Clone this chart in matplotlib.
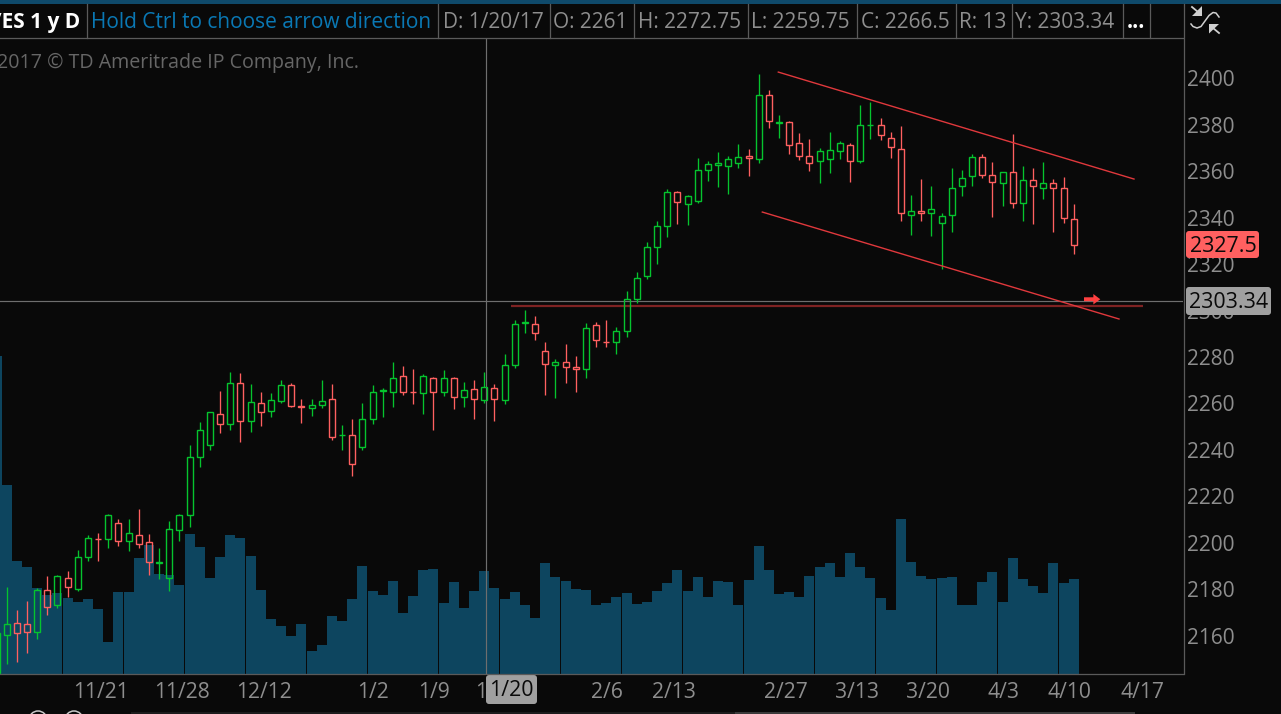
import matplotlib
matplotlib.use("Agg")
import matplotlib.pyplot as plt
from matplotlib.patches import Rectangle, FancyBboxPatch, Polygon, Circle
from matplotlib.transforms import ScaledTranslation
import numpy as np

opens = [2143.25,2159.75,2164.75,2164.5,2161,2179,2172.5,
 2184.25,2179.5,2193.25,2201.25,2201,2207.75,
 2200,2203,2199.75,2190.75,2184.25,2204.75,
 2211.25,2236.5,2241.5,2255,2250.5,2268,
 2251.75,2259.5,2256,2260.25,2267.25,2258.25,
 2257.25,2258.5,2261.25,2245.75,2246,2240.5,
 2252.5,2264.75,2264.25,2271,2264.5,2263.75,2270.5,
 2264.5,2270.25,2262,2265.5,2261,2266,
 2260.75,2275.75,2294,2293.75,2281.75,2275.75,
 2277,2275,2274,2293,2286,2285.75,
 2290.5,2304.25,2314,2326.5,2335.5,2350.25,
 2345,2346.25,2360,2361.75,2361.5,2362.75,
 2365.75,2364.5,2392.25,2380,2380.25,2371.25,2365.75,
 2363.5,2364.5,2367.75,2370.75,2363.5,2379,
 2379,2373.75,2369,2340.25,2342,2341.25,
 2337,2340.25,2352.75,2357,2365.25,2357.5,
 2354,2358.75,2345.5,2355.5,2352,2354,
 2352,2338.75]
highs = [2161,2180.25,2170.5,2174.5,2180,2185.25,2185.5,
 2187.5,2196.5,2203,2203.5,2211.75,2209.75,
 2209.75,2214,2203.25,2197,2208.75,2212,
 2241.5,2251.5,2255.75,2264.75,2273,2272.5,
 2267.75,2264.25,2264,2269.5,2268.25,2261.25,
 2261.25,2269.5,2267.75,2250,2252.5,2259.5,
 2267.25,2266,2277.25,2275.5,2274.25,2272,2270.75,
 2273.75,2270.75,2268.5,2269.5,2272.75,2267.75,
 2280.5,2295.25,2299.5,2297,2285.75,2278.5,
 2285,2279.75,2294,2294.5,2295.25,2292.25,
 2307.75,2315.75,2329,2337.75,2351.5,2350.75,
 2349,2365,2363.5,2367.5,2365.75,2371,
 2368.75,2401,2394.25,2383.5,2380.75,2375.5,2373,
 2369.25,2376,2372.25,2371.5,2387.75,2389,
 2382,2376,2378.75,2349,2356,2353,
 2341.5,2360.5,2359.75,2366.75,2366.75,2363.25,
 2358.75,2375.25,2361.5,2360.5,2363.25,2356,
 2356.75,2345.25]
lows = [2143,2147.5,2148.25,2152.25,2158.25,2168.5,2171.5,
 2176.25,2178.5,2191.75,2191.75,2197.25,2198.25,
 2196,2197,2185.75,2184,2178.75,2200,
 2206.25,2232.25,2239.5,2246.5,2247.75,2243,
 2247.25,2249.5,2253.75,2259.75,2258,2251,
 2254,2257.5,2243.5,2239.5,2228,2239.5,
 2250.75,2253.75,2258,2263,2259.25,2255,2248,
 2262.75,2257,2258,2252.75,2259.75,2251.75,
 2259.25,2274.75,2289.5,2286.75,2263,2261.75,
 2268,2264.5,2270.5,2283.5,2283.75,2280.75,
 2287.75,2302.75,2313,2319.5,2331,2336.75,
 2336.25,2345.75,2355.25,2352.5,2349.25,2360.75,
 2357.25,2363,2378,2373.75,2366.75,2364.25,2359.5,
 2354,2358.5,2364.5,2354.75,2363,2373.25,
 2372.5,2365,2338,2332,2338,2331.5,
 2317.25,2333.25,2348.75,2353,2356.5,2339.75,
 2344.5,2343.5,2338,2336.75,2347.5,2333.25,
 2337,2323.75]
closes = [2160.75,2164.5,2160.5,2161,2179,2172,2185,
 2180.25,2193.5,2201.5,2201,2211.25,2200,
 2203.5,2198.75,2191,2191,2205.25,2211.25,
 2236.5,2247.75,2255.5,2250.5,2268,2252,
 2260,2255.5,2260.75,2267.25,2258.25,2258,
 2258.5,2260.25,2244.75,2246,2233.5,2252.5,
 2264.5,2265.25,2270.5,2264.25,2264.25,2271,2264.5,
 2270.5,2262,2265,2261.25,2266.5,2261.25,
 2275.75,2293.75,2294.25,2289.5,2276.25,2277,
 2275,2274,2291.75,2286.5,2285.75,2290.5,
 2304.25,2313.25,2326.5,2335.5,2350.5,2346,
 2348.5,2360,2362.25,2362.75,2364.5,2365.25,
 2364.75,2392.25,2380.75,2380.25,2370.75,2366,2363,
 2367.75,2368.25,2371.25,2363.5,2379,2379.25,
 2375,2369.5,2341.25,2342,2341.25,2343,
 2340,2352.25,2356.5,2365.25,2357.5,2354.5,
 2358.75,2345.5,2355.5,2352.75,2354,2352,
 2339,2327.5]
volumes = [318,189,113,107,86,79,81,
 76,72,75,65,32,82,
 82,116,129,100,99,89,
 140,127,96,117,139,136,
 118,84,55,48,38,50,
 23,29,58,53,75,108,
 83,79,93,61,78,104,105,
 71,92,66,83,103,86,
 75,82,69,56,111,97,
 93,85,84,69,71,77,
 81,70,72,83,91,104,
 83,97,77,93,92,69,
 94,128,104,80,82,77,98,
 107,111,97,121,107,96,
 76,64,155,112,98,95,
 96,97,69,69,92,102,
 72,116,95,88,81,111,
 91,95]
week_sizes = [7,6,6,6,6,6,7,6,6,6,6,6,7,6,6,6,6,2]
date_labels = ["11/21","11/28","12/12","1/2","1/9","1/16","2/6","2/13","2/27","3/13","3/20","4/3","4/10","4/17"]
date_slots = [10.37,18.5,26.62,37.57,43.67,49.97,60.97,67.67,78.87,85.97,93.07,100.57,107.22,114.47]
price_ticks = [2160,2180,2200,2220,2240,2260,2280,2300,2320,2340,2360,2380,2400]
upper_channel = ([78.1,113.67],[2401.9,2355.9])
lower_channel = ([76.5,112.17],[2341.7,2295.7])
support = ([51.37,114.57],[2301.3,2301.3])
crosshair_price = 2303.34
crosshair_slot = 48.9
last_price = 2327.5

FONT = "Open Sans"
BG = "#090909"; GREEN = "#05C42E"; RED = "#FF6060"; VOL = "#0D455F"
GRID = "#5A5A5A"; TXT = "#8E8E8E"; CHAN = "#E0383C"
FS = 15.0

plt.rcParams["font.family"] = [FONT, "DejaVu Sans"]
W, H = 1281, 714
fig = plt.figure(figsize=(W/100, H/100), dpi=100, facecolor=BG)
rect = [0, (H-674)/H, 1183/W, (674-38)/H]

# slot position of each bar: one slot per bar, a small gap at each week change
week_idx = np.repeat(np.arange(len(week_sizes)), week_sizes)
pos = np.arange(len(week_idx)) + 0.1*week_idx
xlim = (0.27, 118.57)

vax = fig.add_axes(rect, zorder=1, facecolor=BG)
vax.bar(pos, volumes, width=1.0, color=VOL, linewidth=0)
vax.set_xlim(*xlim); vax.set_ylim(0, 636); vax.axis("off")

ax = fig.add_axes(rect, zorder=2)
ax.patch.set_visible(False)
ax.set_xlim(*xlim); ax.set_ylim(2143.01, 2416.56)
for s in ax.spines.values():
    s.set_visible(False)

o, h, l, c = map(np.array, (opens, highs, lows, closes))
cols = [GREEN if cc >= oo else RED for oo, cc in zip(o, c)]
top = np.maximum(o, c); bot = np.minimum(o, c)
ax.vlines(pos, top, h, colors=cols, linewidth=0.95, zorder=3)
ax.vlines(pos, l, bot, colors=cols, linewidth=0.95, zorder=3)
ax.bar(pos, top-bot, bottom=bot, width=0.6, fill=False, edgecolor=cols, linewidth=1.0, zorder=4)

ax.axhline(crosshair_price, color="#6E6E6E", lw=0.85, zorder=2)
ax.axvline(crosshair_slot, color="#6E6E6E", lw=0.85, zorder=2)
ax.plot(*support, color="#7E2222", lw=1.6, zorder=2, solid_capstyle="butt")
ax.plot(*upper_channel, color=CHAN, lw=1.0, zorder=5)
ax.plot(*lower_channel, color=CHAN, lw=1.0, zorder=5)
ax.annotate("", xy=(110.3, 2304.2), xytext=(108.67, 2304.2),
            arrowprops=dict(width=2.8, headwidth=7.5, headlength=5, color="#FF4040", shrink=0, linewidth=0))

ax.yaxis.tick_right()
ax.set_yticks(price_ticks)
ax.tick_params(axis="y", length=0, pad=3.0, labelsize=FS, labelcolor=TXT)
for lab in ax.get_yticklabels():
    lab.set_transform(lab.get_transform() + ScaledTranslation(0, -1.5/100, fig.dpi_scale_trans))
ax.set_xticks(date_slots)
ax.set_xticklabels(date_labels)
ax.tick_params(axis="x", length=0, pad=5.5, labelsize=15.2, labelcolor=TXT)

# window chrome, in pixel coordinates
ch = fig.add_axes([0, 0, 1, 1], zorder=5)
ch.set_xlim(0, W); ch.set_ylim(H, 0); ch.axis("off"); ch.patch.set_visible(False)
ch.add_patch(Rectangle((0, 0), W, 3.5, color="#0F4A6B", lw=0))
ch.plot([0, 1183], [37.5, 37.5], color=GRID, lw=0.9)
ch.plot([1183.5, 1183.5], [3.5, 674], color=GRID, lw=0.9)
ch.plot([0, 1183], [674, 674], color=GRID, lw=0.9)
for x in [87, 438, 549.5, 633.5, 747.5, 856.5, 955.5, 1012, 1122.5, 1150]:
    ch.plot([x, x], [3.5, 37.5], color=GRID, lw=0.9)
HY = 22.5
ch.text(80, HY, "/ES 1 y D", color="white", fontsize=FS, fontweight="bold", ha="right", va="center")
ch.text(91, HY, "Hold Ctrl to choose arrow direction", color="#0A78B4", fontsize=FS, va="center")
for x, s in [(443, "D: 1/20/17"), (553, "O: 2261"), (638, "H: 2272.75"), (751, "L: 2259.75"),
             (861, "C: 2266.5"), (959, "R: 13"), (1015, "Y: 2303.34")]:
    ch.text(x, HY, s, color=TXT, fontsize=FS, va="center")
ch.text(1127, HY, "...", color="white", fontsize=FS, fontweight="bold", va="center")
ch.text(359, 62.5, "2017 \u00a9 TD Ameritrade IP Company, Inc.", color="#666666", fontsize=14.1, ha="right", va="center")

def tag(x0, y0, x1, y1, col, s, tx):
    ch.add_patch(FancyBboxPatch((x0+2, y0+2), x1-x0-4, y1-y0-4, boxstyle="round,pad=2,rounding_size=3", fc=col, ec="none"))
    ch.text(tx, (y0+y1)/2 + 1.5, s, color="#0A0A0A", fontsize=15.4, va="center")
tag(1186, 231, 1259, 258, RED, f"{last_price}", 1190)
tag(1186, 287, 1271, 315, "#A0A0A0", f"{crosshair_price}", 1189)
tag(486, 675, 537, 704, "#A0A0A0", "1/20", 489)

# toolbar icon
ICON = "#D0D0D0"
ch.add_patch(Polygon([(1192, 15.5), (1202, 15.5), (1202, 6)], color=ICON, lw=0))
ch.plot([1192, 1198], [7, 12], color=ICON, lw=1.3)
ch.add_patch(Polygon([(1209, 24), (1209, 33.5), (1219, 24)], color=ICON, lw=0))
ch.plot([1213, 1219], [28, 33], color=ICON, lw=1.3)
ch.plot([1191, 1193, 1197, 1201, 1205, 1209, 1213, 1216, 1219],
        [24, 26.5, 28, 26.5, 21, 15.5, 12.5, 13, 17], color=ICON, lw=1.1)

# bottom bar
ch.add_patch(Circle((38, 720), 9, fc="none", ec="#C8C8C8", lw=1.1))
ch.add_patch(Circle((74, 720), 9, fc="none", ec="#C8C8C8", lw=1.1))
ch.add_patch(Rectangle((131, 712), 604, 2, color="#1C1C1C", lw=0))
ch.add_patch(Rectangle((735, 712), 400, 2, color="#3A3A3A", lw=0))

fig.savefig("out.png", dpi=100, facecolor=BG)
